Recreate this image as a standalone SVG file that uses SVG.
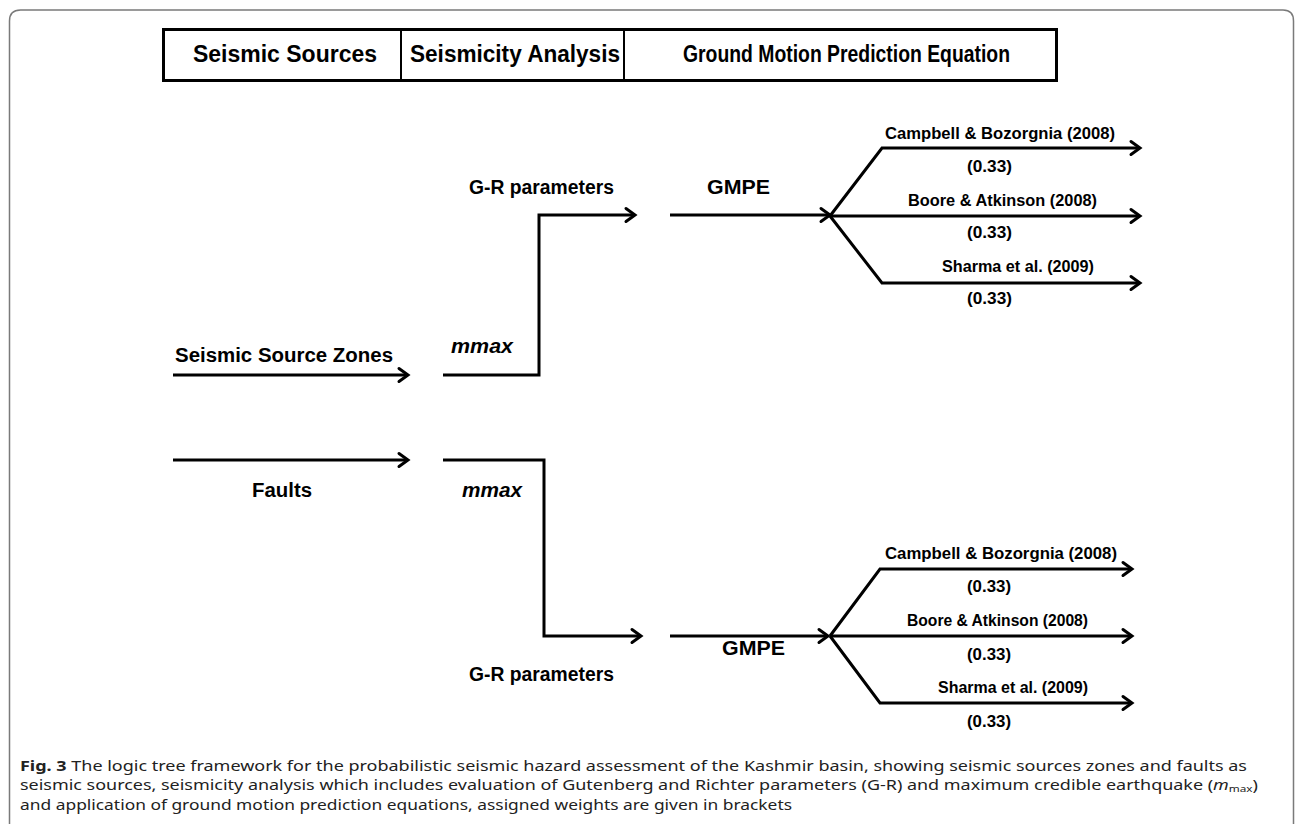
<svg xmlns="http://www.w3.org/2000/svg" width="1295" height="824" viewBox="0 0 1295 824">
<defs>
<marker id="arr" markerUnits="userSpaceOnUse" markerWidth="16" markerHeight="18" refX="12" refY="8" orient="auto" viewBox="0 0 16 16">
<path d="M3,1.5 L12,8 L3,14.5" fill="none" stroke="#000" stroke-width="3" stroke-linecap="round" stroke-linejoin="miter"/>
</marker>
<style>
.la{fill:none;stroke:#000;stroke-width:3;marker-end:url(#arr)}
.hd{font-family:"Liberation Sans",Arial,sans-serif;font-weight:bold;font-size:23px;fill:#000}
.lb{font-family:"Liberation Sans",Arial,sans-serif;font-weight:bold;font-size:20px;fill:#000}
.br{font-family:"Liberation Sans",Arial,sans-serif;font-weight:bold;font-size:17px;fill:#000}
.cap{font-family:"Noto Sans","Open Sans",sans-serif;font-size:14.5px;fill:#222}
</style>
</defs>
<rect width="1295" height="824" fill="#fff"/>
<g id="frame">
<path d="M9.5,824 V21 Q9.5,10 20.5,10 H1283 Q1293.5,10 1293.5,21 V824" fill="none" stroke="#7a7a7a" stroke-width="1.5"/>
</g>
<g id="header">
<rect x="163.5" y="29.5" width="893" height="51" fill="#fff" stroke="#000" stroke-width="3"/>
<line x1="401" y1="29.5" x2="401" y2="80.5" stroke="#000" stroke-width="2"/>
<line x1="624" y1="29.5" x2="624" y2="80.5" stroke="#000" stroke-width="2"/>
<text class="hd" x="193" y="62" textLength="184" lengthAdjust="spacingAndGlyphs">Seismic Sources</text>
<text class="hd" x="410" y="62" textLength="210" lengthAdjust="spacingAndGlyphs">Seismicity Analysis</text>
<text class="hd" x="683" y="62" textLength="327" lengthAdjust="spacingAndGlyphs">Ground Motion Prediction Equation</text>
</g>
<g id="connectors">
<path class="la" d="M173,375 H408"/>
<path class="la" d="M173,460 H408"/>
<path class="la" d="M443,375 H539 V215 H635"/>
<path class="la" d="M443,460 H544 V636 H641"/>
<path class="la" d="M670,215 H830"/>
<path class="la" d="M670,636 H828"/>
<path class="la" d="M830,216 L882,148 H1140"/>
<path class="la" d="M830,216 H1140"/>
<path class="la" d="M830,216 L882,283 H1140"/>
<path class="la" d="M830,636 L880,569 H1132"/>
<path class="la" d="M830,636 H1132"/>
<path class="la" d="M830,636 L880,703 H1132"/>
</g>
<g id="sources">
<text class="lb" x="175" y="362" textLength="218" lengthAdjust="spacingAndGlyphs">Seismic Source Zones</text>
<text class="lb" x="252" y="497" textLength="60" lengthAdjust="spacingAndGlyphs">Faults</text>
</g>
<g id="seismicity">
<text class="lb" x="451" y="353" font-style="italic" textLength="62" lengthAdjust="spacingAndGlyphs">mmax</text>
<text class="lb" x="462" y="497" font-style="italic" textLength="60" lengthAdjust="spacingAndGlyphs">mmax</text>
<text class="lb" x="469" y="194" textLength="145" lengthAdjust="spacingAndGlyphs">G-R parameters</text>
<text class="lb" x="469" y="681" textLength="145" lengthAdjust="spacingAndGlyphs">G-R parameters</text>
</g>
<g id="gmpe-top">
<text class="lb" x="707" y="194" textLength="63" lengthAdjust="spacingAndGlyphs">GMPE</text>
<text class="br" x="885" y="139" textLength="230" lengthAdjust="spacingAndGlyphs">Campbell &amp; Bozorgnia (2008)</text>
<text class="br" x="967" y="172" textLength="45" lengthAdjust="spacingAndGlyphs">(0.33)</text>
<text class="br" x="908" y="206" textLength="189" lengthAdjust="spacingAndGlyphs">Boore &amp; Atkinson (2008)</text>
<text class="br" x="967" y="238" textLength="45" lengthAdjust="spacingAndGlyphs">(0.33)</text>
<text class="br" x="942" y="272" textLength="152" lengthAdjust="spacingAndGlyphs">Sharma et al. (2009)</text>
<text class="br" x="967" y="304" textLength="45" lengthAdjust="spacingAndGlyphs">(0.33)</text>
</g>
<g id="gmpe-bottom">
<text class="lb" x="722" y="655" textLength="63" lengthAdjust="spacingAndGlyphs">GMPE</text>
<text class="br" x="885" y="559" textLength="232" lengthAdjust="spacingAndGlyphs">Campbell &amp; Bozorgnia (2008)</text>
<text class="br" x="967" y="592" textLength="44" lengthAdjust="spacingAndGlyphs">(0.33)</text>
<text class="br" x="907" y="626" textLength="181" lengthAdjust="spacingAndGlyphs">Boore &amp; Atkinson (2008)</text>
<text class="br" x="967" y="660" textLength="44" lengthAdjust="spacingAndGlyphs">(0.33)</text>
<text class="br" x="938" y="693" textLength="150" lengthAdjust="spacingAndGlyphs">Sharma et al. (2009)</text>
<text class="br" x="967" y="727" textLength="44" lengthAdjust="spacingAndGlyphs">(0.33)</text>
</g>
<g id="caption">
<text class="cap" x="20" y="771" textLength="1227" lengthAdjust="spacingAndGlyphs"><tspan font-weight="bold">Fig. 3</tspan>  The logic tree framework for the probabilistic seismic hazard assessment of the Kashmir basin, showing seismic sources zones and faults as</text>
<text class="cap" x="20" y="790" textLength="1238" lengthAdjust="spacingAndGlyphs">seismic sources, seismicity analysis which includes evaluation of Gutenberg and Richter parameters (G-R) and maximum credible earthquake (<tspan font-style="italic">m</tspan><tspan font-size="9.5" dy="2">max</tspan><tspan dy="-2">)</tspan></text>
<text class="cap" x="20" y="810" textLength="772" lengthAdjust="spacingAndGlyphs">and application of ground motion prediction equations, assigned weights are given in brackets</text>
</g>
</svg>
